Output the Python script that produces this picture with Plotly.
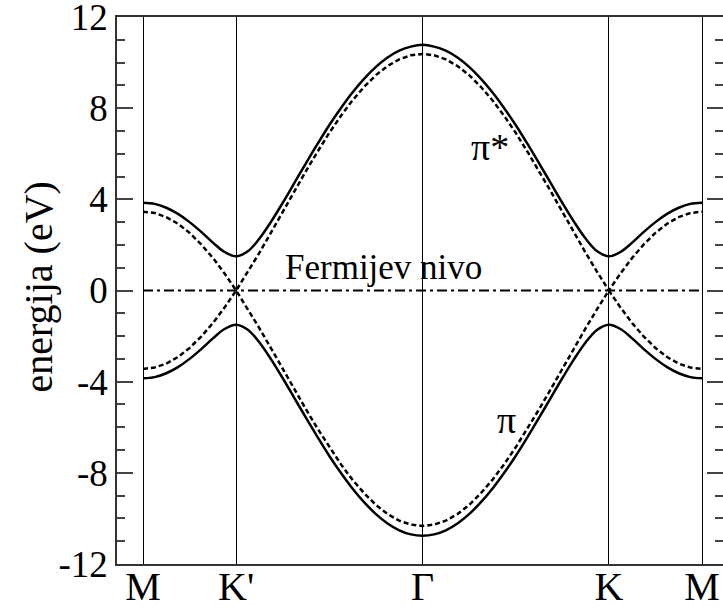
import plotly.graph_objects as go


# -------------------------------------------------
# Data
# -------------------------------------------------

k_path = [0.0, 0.125, 0.25, 0.375, 0.5, 0.625, 0.75, 0.875,
          1.0, 1.125, 1.25, 1.375, 1.5, 1.625, 1.75, 1.875,
          2.0, 2.125, 2.25, 2.375, 2.5, 2.625, 2.75, 2.875,
          3.0, 3.125, 3.25, 3.375, 3.5, 3.625, 3.75, 3.875,
          4.0, 4.125, 4.25, 4.375, 4.5, 4.625, 4.75, 4.875,
          5.0, 5.125, 5.25, 5.375, 5.5, 5.625, 5.75, 5.875, 6.0]

pi_star_solid = [3.85, 3.80, 3.63, 3.36, 3.00, 2.57, 2.10, 1.69,
                 1.50, 1.72, 2.28, 3.02, 3.85, 4.72, 5.59, 6.44,
                 7.26, 8.01, 8.70, 9.30, 9.81, 10.22, 10.52, 10.70,
                 10.78, 10.70, 10.52, 10.22, 9.81, 9.30, 8.70, 8.01,
                 7.26, 6.44, 5.59, 4.72, 3.85, 3.02, 2.28, 1.72,
                 1.50, 1.69, 2.10, 2.57, 3.00, 3.36, 3.63, 3.80, 3.85]

pi_solid = [-3.85, -3.80, -3.63, -3.36, -3.00, -2.57, -2.10, -1.69,
            -1.50, -1.72, -2.28, -3.02, -3.85, -4.72, -5.59, -6.44,
            -7.26, -8.01, -8.70, -9.30, -9.81, -10.22, -10.52, -10.70,
            -10.76, -10.70, -10.52, -10.22, -9.81, -9.30, -8.70, -8.01,
            -7.26, -6.44, -5.59, -4.72, -3.85, -3.02, -2.28, -1.72,
            -1.50, -1.69, -2.10, -2.57, -3.00, -3.36, -3.63, -3.80, -3.85]

pi_star_dashed = [3.46, 3.40, 3.22, 2.93, 2.53, 2.02, 1.43, 0.75,
                  0.0, 0.81, 1.66, 2.55, 3.46, 4.36, 5.25, 6.10,
                  6.92, 7.67, 8.35, 8.94, 9.45, 9.85, 10.14, 10.32,
                  10.38, 10.32, 10.14, 9.85, 9.45, 8.94, 8.35, 7.67,
                  6.92, 6.10, 5.25, 4.36, 3.46, 2.55, 1.66, 0.81,
                  0.0, 0.75, 1.43, 2.02, 2.53, 2.93, 3.22, 3.40, 3.46]

pi_dashed = [-3.44, -3.38, -3.21, -2.92, -2.52, -2.02, -1.43, -0.75,
             0.0, -0.81, -1.66, -2.54, -3.44, -4.34, -5.22, -6.07,
             -6.88, -7.63, -8.31, -8.90, -9.41, -9.81, -10.10, -10.27,
             -10.33, -10.27, -10.10, -9.81, -9.41, -8.90, -8.31, -7.63,
             -6.88, -6.07, -5.22, -4.34, -3.44, -2.54, -1.66, -0.81,
             0.0, -0.75, -1.43, -2.02, -2.52, -2.92, -3.21, -3.38, -3.44]

fermi_k = [0.0, 6.0]
fermi_e = [0.0, 0.0]

point_pos = [0, 1, 3, 5, 6]
point_names = ["M", "K'", "Γ", "K", "M"]

e_ticks = [-12, -8, -4, 0, 4, 8, 12]
e_labels = ["-12", "-8", "-4", "0", "4", "8", "12"]


# -------------------------------------------------
# Figure
# -------------------------------------------------

SERIF = "Liberation Serif"

fig = go.Figure()

for band in [pi_star_dashed, pi_dashed]:
    fig.add_trace(
        go.Scatter(
            x=k_path,
            y=band,
            mode="lines",
            line=dict(color="black", width=2.5, dash="5px,3px"),
            showlegend=False
        )
    )

for band in [pi_star_solid, pi_solid]:
    fig.add_trace(
        go.Scatter(
            x=k_path,
            y=band,
            mode="lines",
            line=dict(color="black", width=2.5, shape="spline"),
            showlegend=False
        )
    )

fig.add_trace(
    go.Scatter(
        x=fermi_k,
        y=fermi_e,
        mode="lines",
        line=dict(color="black", width=2, dash="10px,4px,3px,4px"),
        showlegend=False
    )
)

fig.add_annotation(x=2.58, y=1.0, text="Fermijev nivo", showarrow=False,
                   font=dict(family=SERIF, size=35, color="black"))
fig.add_annotation(x=3.72, y=6.3, text="π*", showarrow=False,
                   font=dict(family=SERIF, size=38, color="black"))
fig.add_annotation(x=3.9, y=-5.7, text="π", showarrow=False,
                   font=dict(family=SERIF, size=38, color="black"))

# y axis title, placed by hand left of the tick labels
fig.add_annotation(xref="paper", yref="paper", x=0, y=0.5,
                   xanchor="center", yanchor="middle",
                   xshift=-79, yshift=3, textangle=-90,
                   text="energija (eV)", showarrow=False,
                   font=dict(family=SERIF, size=40, color="black"))

fig.update_layout(
    width=723,
    height=608,
    template="plotly_white",
    paper_bgcolor="white",
    plot_bgcolor="white",
    margin=dict(l=117, r=0, t=17, b=44, autoexpand=False),
    font=dict(family=SERIF, color="black"),
    xaxis=dict(
        range=[-0.279, 6.225],
        tickmode="array",
        tickvals=point_pos,
        ticktext=point_names,
        tickfont=dict(family=SERIF, size=40, color="black"),
        ticklabelstandoff=-14,
        showgrid=True,
        gridcolor="black",
        gridwidth=1.3,
        zeroline=False,
        showline=True,
        linecolor="#333",
        linewidth=1.5,
        mirror=True,
        ticks="",
        automargin=False
    ),
    yaxis=dict(
        range=[-12, 12],
        tickmode="array",
        tickvals=e_ticks,
        ticktext=e_labels,
        tickfont=dict(family=SERIF, size=37, color="black"),
        ticklabeloverflow="allow",
        showgrid=False,
        zeroline=False,
        showline=True,
        linecolor="#333",
        linewidth=1.5,
        mirror="ticks",
        ticks="inside",
        ticklen=16,
        tickwidth=1.5,
        tickcolor="#444",
        automargin=False,
        minor=dict(tickmode="linear", tick0=0, dtick=1, ticks="inside",
                   ticklen=8, tickwidth=1.5, tickcolor="#444")
    )
)

# drop the browser's default 8px body margin so the figure fills the window
fig.write_html("out.html", config={"displayModeBar": False},
               post_script="document.body.style.margin = '0px';")
